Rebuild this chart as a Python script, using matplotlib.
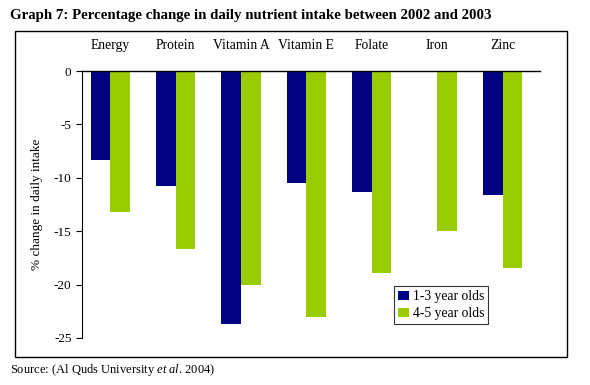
import numpy as np
import matplotlib.pyplot as plt
from matplotlib.patches import Rectangle

plt.rcParams['font.family'] = ['Liberation Serif', 'DejaVu Serif']
plt.rcParams['mathtext.fontset'] = 'custom'
plt.rcParams['mathtext.rm'] = 'Liberation Serif'
plt.rcParams['mathtext.it'] = 'Liberation Serif:italic'

nutrients = ["Energy", "Protein", "Vitamin A", "Vitamin E", "Folate", "Iron", "Zinc"]
young = [-8.3, -10.8, -23.7, -10.5, -11.3, np.nan, -11.6]
older = [-13.2, -16.7, -20.0, -23.0, -18.9, -15.0, -18.4]
series_names = ["1-3 year olds", "4-5 year olds"]
yticks = [0, -5, -10, -15, -20, -25]

fig = plt.figure(figsize=(5.9, 3.85), dpi=100)
ax = fig.add_axes([82 / 590, 1 - 338 / 385, 458 / 590, 267 / 385])

x = np.arange(len(nutrients))
w = 0.3
ax.bar(x - w / 2, young, w, color="#000080", label=series_names[0])
ax.bar(x + w / 2, older, w, color="#99CC00", label=series_names[1])

ax.set_xlim(-0.43, len(nutrients) - 0.43)
ax.set_ylim(-25, 0)
ax.set_yticks(yticks)
ax.set_yticklabels([str(t) for t in yticks], fontsize=9.5)
ax.tick_params(axis="y", direction="out", length=4, width=0.8)

ax.xaxis.tick_top()
ax.set_xticks(x)
ax.set_xticklabels(nutrients, fontsize=9.8)
ax.tick_params(axis="x", length=0, pad=14)

ax.spines["right"].set_visible(False)
ax.spines["bottom"].set_visible(False)
ax.spines["top"].set_linewidth(1.0)
ax.spines["left"].set_linewidth(0.8)

ax.set_ylabel("% change in daily intake", fontsize=9.5, labelpad=8)

leg = ax.legend(loc="lower left", bbox_to_anchor=(305 / 458, 7 / 267), fontsize=9.8,
                frameon=True, fancybox=False, edgecolor="black", handlelength=0.8,
                handletextpad=0.3, borderpad=0.3, labelspacing=0.3)
leg.get_frame().set_linewidth(0.8)

fig.patches.append(Rectangle((15 / 590, 1 - 357 / 385), 552 / 590, 326 / 385,
                             transform=fig.transFigure, fill=False,
                             edgecolor="black", linewidth=1.0))

fig.text(10 / 590, 1 - 15 / 385, "Graph 7: Percentage change in daily nutrient intake between 2002 and 2003",
         fontsize=10.7, fontweight="bold", va="center", ha="left")
fig.text(10 / 590, 1 - 370 / 385, "Source: (Al Quds University $\\mathit{et\\ al}$. 2004)",
         fontsize=9, va="center", ha="left")

fig.savefig("out.png", dpi=100)
